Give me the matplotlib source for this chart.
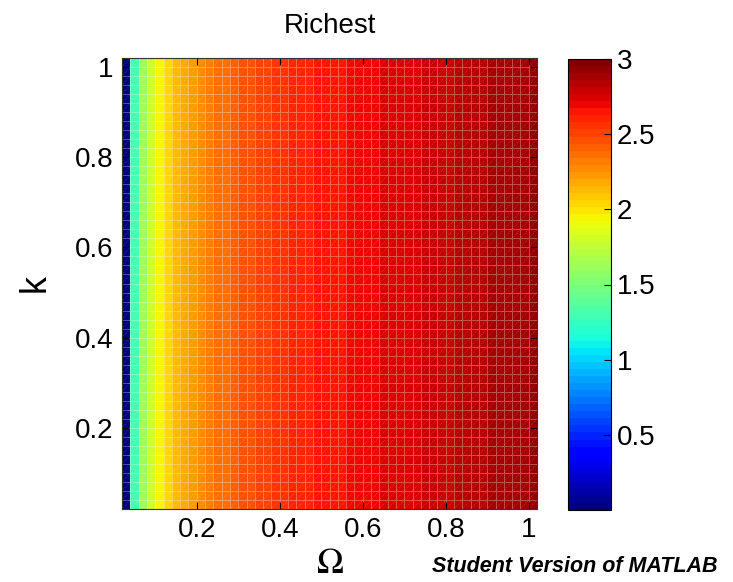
import numpy as np
import matplotlib
import matplotlib.pyplot as plt
from matplotlib.collections import LineCollection

plt.rcParams['font.family'] = ['Liberation Sans', 'DejaVu Sans']

# grid of the surface (cell edges)
omega_edges = np.linspace(0.02, 1.02, 51)
k_edges = np.linspace(0.02, 1.02, 51)

# value of each column of cells (same in every row)
richest = [0.02, 1.30, 1.60, 1.80, 1.93, 2.06, 2.12, 2.18, 2.23, 2.28,
           2.32, 2.36, 2.39, 2.42, 2.45, 2.48, 2.51, 2.53, 2.55, 2.57,
           2.585, 2.60, 2.615, 2.63, 2.64, 2.655, 2.665, 2.68, 2.69, 2.70,
           2.71, 2.72, 2.73, 2.74, 2.755, 2.765, 2.775, 2.785, 2.795, 2.805,
           2.815, 2.825, 2.835, 2.845, 2.86, 2.87, 2.88, 2.89, 2.90, 2.91]

x_ticks = [0.2, 0.4, 0.6, 0.8, 1]
y_ticks = [0.2, 0.4, 0.6, 0.8, 1]
cb_ticks = [0.5, 1, 1.5, 2, 2.5, 3]
cb_labels = ['0.5', '1', '1.5', '2', '2.5', '3']

Z = np.tile(np.array(richest), (len(k_edges) - 1, 1))

fig = plt.figure(figsize=(7.33, 5.82), dpi=100)
ax = fig.add_axes([122 / 733, 73 / 582, 415 / 733, 451 / 582])

cmap = matplotlib.colormaps['jet'].resampled(64)
mesh = ax.pcolormesh(omega_edges, k_edges, Z, cmap=cmap, vmin=0.0, vmax=3.0,
                     shading='flat', edgecolors=(1, 1, 1, 0.3), linewidth=0.6)

# diagonal triangle edges of the faceted surface
segs = []
for c in np.arange(-1.0, 1.0001, 0.02):
    segs.append([(omega_edges[0], omega_edges[0] + c), (omega_edges[-1], omega_edges[-1] + c)])
lc = LineCollection(segs, colors=[(1, 1, 1, 0.25)], linewidths=0.6, linestyles=(0, (1, 1.5)))
ax.add_collection(lc)

ax.set_xlim(omega_edges[0], omega_edges[-1])
ax.set_ylim(k_edges[0], k_edges[-1])
ax.set_xticks(x_ticks)
ax.set_xticklabels(['0.2', '0.4', '0.6', '0.8', '1'])
ax.set_yticks(y_ticks)
ax.set_yticklabels(['0.2', '0.4', '0.6', '0.8', '1'])
ax.tick_params(direction='in', length=5, width=0.8, labelsize=20, pad=6,
               top=True, right=True)
for s in ax.spines.values():
    s.set_linewidth(0.8)
    s.set_color('#333333')

ax.set_title('Richest', fontsize=20, pad=18)
ax.set_xlabel(r'$\Omega$', fontsize=26, labelpad=2,
              math_fontfamily='stix')
ax.set_ylabel('k', fontsize=26, labelpad=16)

cax = fig.add_axes([568 / 733, 72 / 582, 43 / 733, 451 / 582])
cb = fig.colorbar(mesh, cax=cax, ticks=cb_ticks)
cb.ax.set_yticklabels(cb_labels)
cb.ax.tick_params(direction='in', length=5, width=0.8, labelsize=20, pad=4)
cb.outline.set_linewidth(0.8)

fig.text(718 / 733, 5 / 582, 'Student Version of MATLAB', ha='right', va='bottom',
         fontsize=15.5, fontweight='bold', fontstyle='italic')

fig.savefig('out.png', dpi=100)
